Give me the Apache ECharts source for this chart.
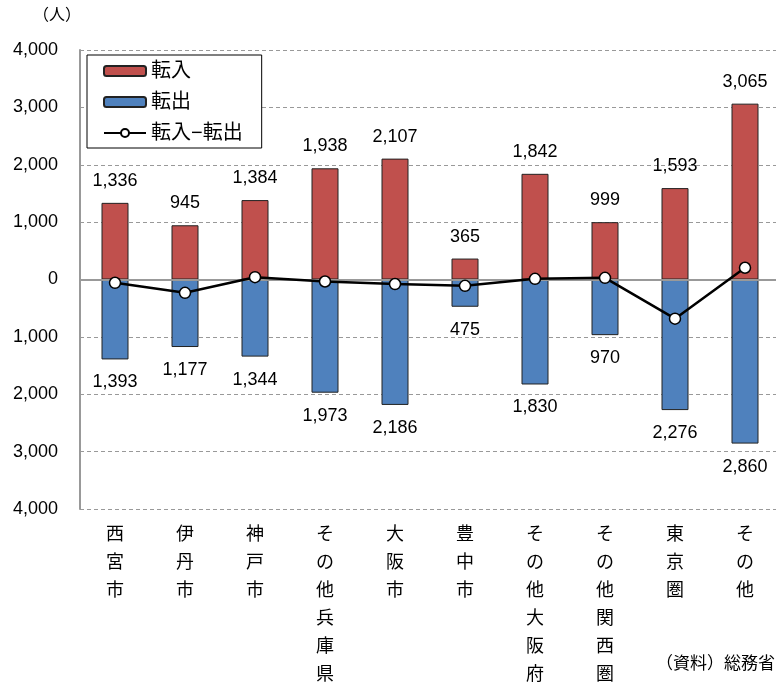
<!DOCTYPE html>
<html>
<head>
<meta charset="utf-8">
<script src="https://cdn.jsdelivr.net/npm/echarts@6/dist/echarts.min.js"></script>
<style>
  html, body { margin: 0; padding: 0; background: #fff; }
  #chart { width: 776px; height: 686px; }
</style>
</head>
<body>
<div id="chart"></div>
<script>
// 転入・転出の内訳（人）
const categories = ['西宮市', '伊丹市', '神戸市', 'その他兵庫県', '大阪市', '豊中市', 'その他大阪府', 'その他関西圏', '東京圏', 'その他']
const inflow = [1336, 945, 1384, 1938, 2107, 365, 1842, 999, 1593, 3065]
const outflow = [-1393, -1177, -1344, -1973, -2186, -475, -1830, -970, -2276, -2860]
const netflow = [-57, -232, 40, -35, -79, -110, 12, 29, -683, 205]

const FONT = '"Liberation Sans", "Noto Sans CJK JP", sans-serif'
const fmt = v => Math.abs(v).toLocaleString('en-US')

const chart = echarts.init(document.getElementById('chart'))

chart.setOption({
  animation: false,
  textStyle: { fontFamily: FONT, color: '#000' },
  grid: { left: 80, top: 50, width: 700, height: 459, outerBoundsMode: 'none', containLabel: false },
  legend: {
    orient: 'vertical',
    left: 87,
    top: 55,
    padding: [6, 19, 5, 16],
    itemGap: 11,
    itemWidth: 42,
    itemHeight: 10,
    backgroundColor: '#fff',
    borderColor: '#000',
    borderWidth: 1,
    borderRadius: 0,
    textStyle: { fontSize: 20, lineHeight: 20, color: '#000', fontFamily: FONT },
    data: ['転入', '転出', '転入−転出']
  },
  graphic: [
    { type: 'text', left: 33, top: 8, style: { text: '（人）', fontSize: 16, fill: '#000', fontFamily: FONT } },
    { type: 'text', right: 1, top: 656, style: { text: '（資料）総務省', fontSize: 17, fill: '#000', fontFamily: FONT } }
  ],
  xAxis: {
    type: 'category',
    data: categories,
    axisLine: { onZero: false, show: false },
    axisTick: { show: false },
    axisLabel: {
      fontSize: 18,
      lineHeight: 28,
      margin: 12,
      color: '#000',
      verticalAlign: 'top',
      formatter: v => v.split('').join('\n')
    }
  },
  yAxis: {
    type: 'value',
    min: -4000,
    max: 4000,
    interval: 1000,
    axisLine: { show: true, lineStyle: { color: '#999', width: 2 } },
    axisTick: { show: false },
    axisLabel: { fontSize: 18, color: '#000', margin: 22, formatter: fmt },
    splitLine: { lineStyle: { color: '#999', type: [4, 3], width: 1 } }
  },
  series: [
    {
      name: '転入',
      type: 'bar',
      stack: 'flow',
      barWidth: 27,
      data: inflow,
      itemStyle: { color: '#C0504D', borderColor: '#222', borderWidth: 1 },
      label: { show: true, position: 'top', distance: 13, fontSize: 18, color: '#000', formatter: p => fmt(p.value) },
      markLine: {
        silent: true,
        symbol: 'none',
        label: { show: false },
        lineStyle: { color: '#999', type: 'solid', width: 2 },
        data: [{ yAxis: 0 }]
      }
    },
    {
      name: '転出',
      type: 'bar',
      stack: 'flow',
      barWidth: 27,
      data: outflow,
      itemStyle: { color: '#4F81BD', borderColor: '#222', borderWidth: 1 },
      label: { show: true, position: 'bottom', distance: 14, fontSize: 18, color: '#000', formatter: p => fmt(p.value) }
    },
    {
      name: '転入−転出',
      type: 'line',
      data: netflow,
      z: 5,
      symbol: 'circle',
      symbolSize: 11,
      lineStyle: { color: '#000', width: 2.5 },
      itemStyle: { color: '#fff', borderColor: '#000', borderWidth: 1.5 }
    }
  ]
})
</script>
</body>
</html>
